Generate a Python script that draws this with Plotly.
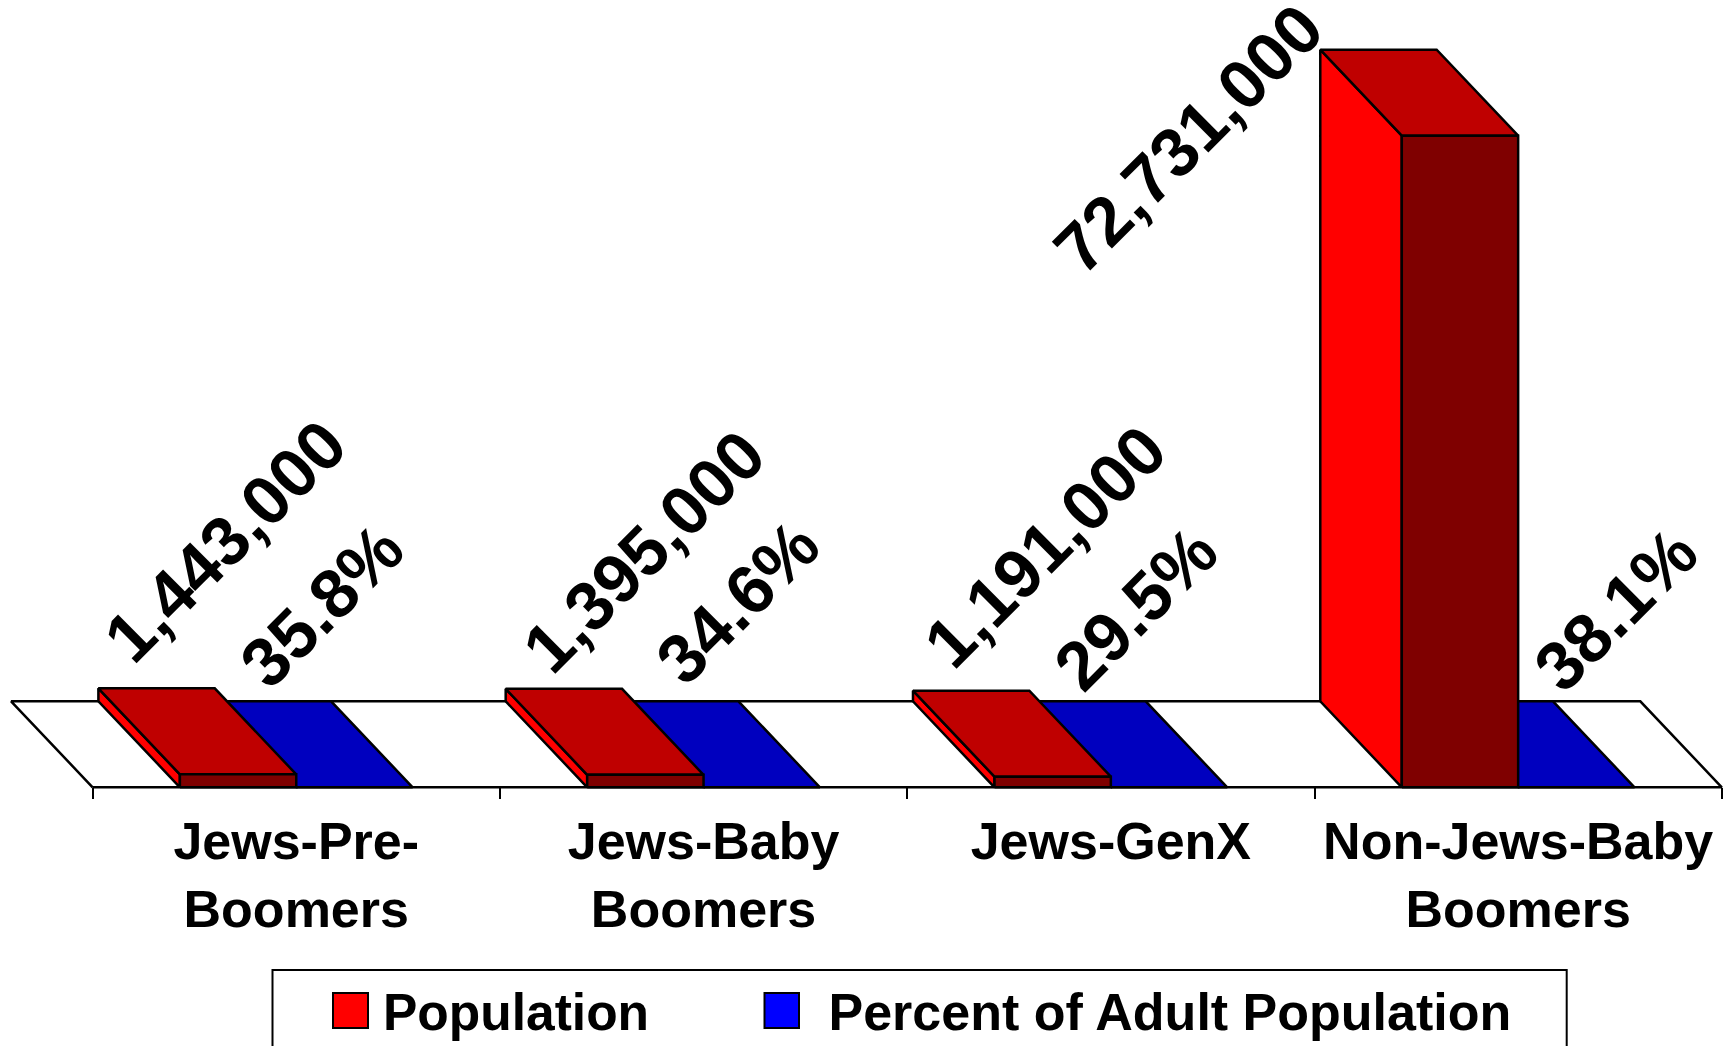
import plotly.graph_objects as go

categories = ["Jews-Pre-<br>Boomers", "Jews-Baby<br>Boomers", "Jews-GenX", "Non-Jews-Baby<br>Boomers"]
population = [1443000, 1395000, 1191000, 72731000]
percent = [35.8, 34.6, 29.5, 38.1]

W, H = 1723, 1046
BASE_PX = 787.3
PX_PER_UNIT = 651.6 / 72731000
X0_PX, CAT_PX = 92.6, 407.3
BARW = (1 - 1.5 / 3.5) / 2       # category units, Excel gap width 150%
DX = -81.5 / CAT_PX              # depth, x direction
DY = 86 / PX_PER_UNIT            # depth, y direction

RED_SIDE, RED_TOP, RED_FRONT = "#FF0000", "#BF0000", "#7F0000"
BLUE_SIDE, BLUE_TOP, BLUE_FRONT = "#0000FF", "#0000BF", "#00007F"
FONT = "Liberation Sans"
LW = 2.5


def poly(xs, ys, color):
    return go.Scatter(x=xs + xs[:1], y=ys + ys[:1], mode="lines", fill="toself",
                      fillcolor=color, line=dict(color="black", width=LW),
                      showlegend=False, hoverinfo="skip")


def bar3d(left, value, side, top, front):
    right = left + BARW
    out = []
    if value > 1000:
        out.append(poly([left, left, left + DX, left + DX], [0, value, value + DY, DY], side))
    out.append(poly([left, right, right + DX, left + DX],
                    [value, value, value + DY, value + DY], top))
    if value > 1000:
        out.append(poly([left, right, right, left], [0, 0, value, value], front))
    return out


n = len(categories)
traces = [poly([-0.5, n - 0.5, n - 0.5 + DX, -0.5 + DX], [0, 0, DY, DY], "white")]
for i in range(n):
    # percentages share the population axis, so they stay flat on the floor
    traces += bar3d(i, percent[i], BLUE_SIDE, BLUE_TOP, BLUE_FRONT)
    traces += bar3d(i - BARW, population[i], RED_SIDE, RED_TOP, RED_FRONT)

traces.append(go.Scatter(x=[None], y=[None], mode="markers", name="Population", legend="legend",
                         marker=dict(symbol="square", size=16, color="#FF0000")))
traces.append(go.Scatter(x=[None], y=[None], mode="markers", name="Percent of Adult Population",
                         legend="legend2",
                         marker=dict(symbol="square", size=16, color="#0000FF")))

fig = go.Figure(traces)

label_font = dict(family=FONT, size=69, color="black", weight=700)
red_shift = [(-13, -233), (-1, -223), (-7, -230), (-271, 3)]
blue_shift = [(-32, -182), (-24, -185), (-33, -179), (40, -178)]
annotations = []
for i in range(n):
    annotations.append(dict(x=i - BARW / 2, y=population[i], xref="x", yref="y",
                            text=f"{population[i]:,}", showarrow=False, textangle=-45,
                            font=label_font, xanchor="center", yanchor="middle",
                            xshift=red_shift[i][0], yshift=-red_shift[i][1]))
    annotations.append(dict(x=i + BARW / 2, y=0, xref="x", yref="y",
                            text=f"{percent[i]}%", showarrow=False, textangle=-45,
                            font=label_font, xanchor="center", yanchor="middle",
                            xshift=blue_shift[i][0], yshift=-blue_shift[i][1]))


def rect(x0, y0, x1, y1, fill):
    return dict(type="rect", xref="paper", yref="paper", layer="above",
                x0=x0 / W, x1=x1 / W, y0=1 - y0 / H, y1=1 - y1 / H,
                fillcolor=fill, line=dict(color="black", width=2))


shapes = [
    rect(272.5, 970, 1566.7, 1060, "white"),
    rect(333, 993, 368, 1028, "#FF0000"),
    rect(764.5, 993, 799, 1028, "#0000FF"),
]

legend_common = dict(orientation="h", xanchor="left", yanchor="top", bgcolor="rgba(0,0,0,0)",
                     borderwidth=0, itemclick=False, itemdoubleclick=False)

fig.update_layout(
    width=W, height=H, margin=dict(l=0, r=0, t=0, b=0, autoexpand=False),
    paper_bgcolor="white", plot_bgcolor="white",
    hovermode=False,
    annotations=annotations, shapes=shapes,
    showlegend=True,
    legend=dict(x=(384 - 63) / W, y=1 - 969.5 / H, itemwidth=52,
                font=dict(family=FONT, size=51.5, color="black", weight=700), **legend_common),
    legend2=dict(x=(829.5 - 95) / W, y=1 - 969.5 / H, itemwidth=84,
                 font=dict(family=FONT, size=52, color="black", weight=700), **legend_common),
    xaxis=dict(
        range=[-0.5 - X0_PX / CAT_PX, (W - X0_PX) / CAT_PX - 0.5],
        domain=[0, 1], anchor="free", position=(H - BASE_PX) / H,
        showgrid=False, zeroline=False, showline=False, ticks="",
        tickmode="array", tickvals=list(range(n)), ticktext=categories,
        tickangle=0, ticklabelstandoff=19,
        tickfont=dict(family=FONT, size=52, color="black", weight=700),
        minor=dict(tickmode="array", tickvals=[i - 0.5 for i in range(n + 1)],
                   ticks="outside", ticklen=11, tickwidth=2, tickcolor="black", showgrid=False),
    ),
    yaxis=dict(
        range=[-(H - BASE_PX) / PX_PER_UNIT, BASE_PX / PX_PER_UNIT],
        domain=[0, 1], visible=False, showgrid=False, zeroline=False,
    ),
)

fig.write_html("out.html", config={"displayModeBar": False},
               post_script="document.body.style.margin='0';document.documentElement.style.overflow='hidden';")
